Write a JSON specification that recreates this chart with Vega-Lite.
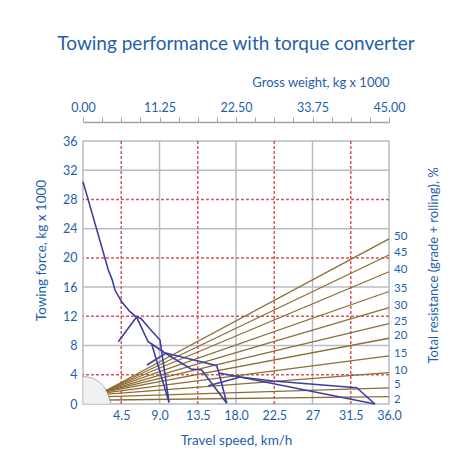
{
  "$schema": "https://vega.github.io/schema/vega-lite/v6.json",
  "width": 306,
  "height": 263,
  "autosize": {"type": "none"},
  "padding": {"left": 83, "top": 141, "right": 62, "bottom": 55},
  "background": "white",
  "config": {
    "font": "Lato",
    "view": {"stroke": "#b7bbc2", "strokeWidth": 1.5},
    "axis": {"labelFont": "Lato", "titleFont": "Lato", "labelColor": "#1f5fa9", "titleColor": "#1f5fa9", "titleFontWeight": "normal", "labelFlush": false, "grid": false, "labelOverlap": false}
  },
  "title": {"text": "Towing performance with torque converter", "fontSize": 19, "fontWeight": "normal", "color": "#1f5fa9", "font": "Lato", "anchor": "middle", "frame": "group", "offset": 22},
  "datasets": {
    "vgrid": [
      {"v": 9, "t": "g"}, {"v": 18, "t": "g"}, {"v": 27, "t": "g"},
      {"v": 4.5, "t": "r"}, {"v": 13.5, "t": "r"}, {"v": 22.5, "t": "r"}, {"v": 31.5, "t": "r"}
    ],
    "hgrid": [
      {"f": 8, "t": "g"}, {"f": 16, "t": "g"}, {"f": 24, "t": "g"}, {"f": 32, "t": "g"},
      {"f": 4, "t": "r"}, {"f": 12, "t": "r"}, {"f": 20, "t": "r"}, {"f": 28, "t": "r"}
    ],
    "arc": [
      {"v": 0, "f": 3.75}, {"v": 0.9, "f": 3.6}, {"v": 1.6, "f": 3.25}, {"v": 2.2, "f": 2.7},
      {"v": 2.7, "f": 1.95}, {"v": 3.05, "f": 1.1}, {"v": 3.3, "f": 0}
    ],
    "fan": [
      {"r": "50", "v": 2.72, "f": 1.85}, {"r": "50", "v": 36, "f": 22.6},
      {"r": "45", "v": 2.72, "f": 1.85}, {"r": "45", "v": 36, "f": 20.4},
      {"r": "40", "v": 2.72, "f": 1.85}, {"r": "40", "v": 36, "f": 18.1},
      {"r": "35", "v": 2.72, "f": 1.85}, {"r": "35", "v": 36, "f": 15.4},
      {"r": "30", "v": 2.74, "f": 1.8}, {"r": "30", "v": 36, "f": 13.2},
      {"r": "25", "v": 2.76, "f": 1.75}, {"r": "25", "v": 36, "f": 11.0},
      {"r": "20", "v": 2.78, "f": 1.7}, {"r": "20", "v": 36, "f": 9.0},
      {"r": "15", "v": 2.82, "f": 1.55}, {"r": "15", "v": 36, "f": 6.6},
      {"r": "10", "v": 2.88, "f": 1.35}, {"r": "10", "v": 36, "f": 4.3},
      {"r": "5", "v": 2.98, "f": 1.0}, {"r": "5", "v": 36, "f": 2.2},
      {"r": "2", "v": 3.12, "f": 0.55}, {"r": "2", "v": 36, "f": 1.0}
    ],
    "curves": [
      {"g": "A", "o": 1, "v": 0, "f": 30.44},
      {"g": "A", "o": 2, "v": 2.98, "f": 18.33},
      {"g": "A", "o": 3, "v": 3.45, "f": 16.96},
      {"g": "A", "o": 4, "v": 3.76, "f": 15.6},
      {"g": "A", "o": 5, "v": 4.55, "f": 13.99},
      {"g": "A", "o": 6, "v": 5.53, "f": 12.63},
      {"g": "A", "o": 7, "v": 6.32, "f": 11.86},
      {"g": "A", "o": 8, "v": 7.66, "f": 8.52},
      {"g": "A", "o": 9, "v": 8.08, "f": 8.21},
      {"g": "A", "o": 10, "v": 9.65, "f": 6.98},
      {"g": "A", "o": 11, "v": 12.7, "f": 4.79},
      {"g": "A", "o": 12, "v": 13.96, "f": 4.65},
      {"g": "A", "o": 13, "v": 16.91, "f": 0.1},
      {"g": "A2", "o": 1, "v": 8.08, "f": 8.21},
      {"g": "A2", "o": 2, "v": 10.12, "f": 0.23},
      {"g": "B", "o": 1, "v": 4.15, "f": 8.52},
      {"g": "B", "o": 2, "v": 6.32, "f": 11.94},
      {"g": "B", "o": 3, "v": 6.82, "f": 11.72},
      {"g": "B", "o": 4, "v": 7.88, "f": 10.26},
      {"g": "B", "o": 5, "v": 9.06, "f": 8.76},
      {"g": "B", "o": 6, "v": 10.12, "f": 0.23},
      {"g": "C", "o": 1, "v": 7.53, "f": 5.34},
      {"g": "C", "o": 2, "v": 9.76, "f": 6.98},
      {"g": "C", "o": 3, "v": 15.73, "f": 5.24},
      {"g": "C", "o": 4, "v": 16.0, "f": 4.24},
      {"g": "C", "o": 5, "v": 16.91, "f": 0.1},
      {"g": "D", "o": 1, "v": 16.0, "f": 4.24},
      {"g": "D", "o": 2, "v": 18.47, "f": 3.69},
      {"g": "D", "o": 3, "v": 22.35, "f": 3.15},
      {"g": "D", "o": 4, "v": 32.2, "f": 2.23},
      {"g": "D", "o": 5, "v": 34.35, "f": 0.0},
      {"g": "E", "o": 1, "v": 14.74, "f": 2.5},
      {"g": "E", "o": 2, "v": 16.5, "f": 3.05},
      {"g": "E", "o": 3, "v": 18.47, "f": 3.69},
      {"g": "E", "o": 4, "v": 34.35, "f": 0.0}
    ],
    "aux": [{"gw": 0, "r": 0}, {"gw": 45, "r": 36}]
  },
  "layer": [
    {
      "layer": [
        {
          "data": {"name": "vgrid"},
          "transform": [{"filter": "datum.t == 'g'"}],
          "mark": {"type": "rule", "color": "#b7bbc2", "strokeWidth": 1.5},
          "encoding": {
            "x": {
              "field": "v", "type": "quantitative",
              "scale": {"domain": [0, 36], "nice": false},
              "axis": {
                "values": [4.5, 9, 13.5, 18, 22.5, 27, 31.5, 36],
                "tickCount": 40,
                "labelExpr": "datum.value == 27 ? '27' : format(datum.value, '.1f')",
                "labelOverlap": false,
                "ticks": false, "domain": false, "labelPadding": 5, "labelFontSize": 12.5,
                "title": "Travel speed, km/h", "titleFontSize": 13.5, "titlePadding": 12
              }
            }
          }
        },
        {
          "data": {"name": "hgrid"},
          "transform": [{"filter": "datum.t == 'g'"}],
          "mark": {"type": "rule", "color": "#b7bbc2", "strokeWidth": 1.5},
          "encoding": {
            "y": {
              "field": "f", "type": "quantitative",
              "scale": {"domain": [0, 36], "nice": false},
              "axis": {
                "values": [0, 4, 8, 12, 16, 20, 24, 28, 32, 36],
                "tickCount": 40,
                "labelOverlap": false,
                "ticks": false, "domain": false, "labelPadding": 6, "labelFontSize": 12.5,
                "title": "Towing force, kg x 1000", "titleFontSize": 13.5, "titlePadding": 14, "titleY": 109
              }
            }
          }
        },
        {
          "data": {"name": "vgrid"},
          "transform": [{"filter": "datum.t == 'r'"}],
          "mark": {"type": "rule", "color": "#d8575a", "strokeWidth": 1.5, "strokeDash": [3, 2]},
          "encoding": {"x": {"field": "v", "type": "quantitative", "scale": {"domain": [0, 36], "nice": false}}}
        },
        {
          "data": {"name": "hgrid"},
          "transform": [{"filter": "datum.t == 'r'"}],
          "mark": {"type": "rule", "color": "#d8575a", "strokeWidth": 1.5, "strokeDash": [3, 2]},
          "encoding": {"y": {"field": "f", "type": "quantitative", "scale": {"domain": [0, 36], "nice": false}}}
        },
        {
          "data": {"name": "arc"},
          "mark": {"type": "area", "color": "#e9ebed", "interpolate": "monotone", "line": {"color": "#a9adb3", "strokeWidth": 1}},
          "encoding": {
            "x": {"field": "v", "type": "quantitative", "scale": {"domain": [0, 36], "nice": false}},
            "y": {"field": "f", "type": "quantitative", "scale": {"domain": [0, 36], "nice": false}}
          }
        },
        {
          "data": {"name": "fan"},
          "mark": {"type": "line", "color": "#8c6e34", "strokeWidth": 1.3},
          "encoding": {
            "x": {"field": "v", "type": "quantitative", "scale": {"domain": [0, 36], "nice": false}},
            "y": {"field": "f", "type": "quantitative", "scale": {"domain": [0, 36], "nice": false}},
            "detail": {"field": "r"}
          }
        },
        {
          "data": {"name": "curves"},
          "mark": {"type": "line", "color": "#3d3f9f", "strokeWidth": 1.6},
          "encoding": {
            "x": {"field": "v", "type": "quantitative", "scale": {"domain": [0, 36], "nice": false}},
            "y": {"field": "f", "type": "quantitative", "scale": {"domain": [0, 36], "nice": false}},
            "detail": {"field": "g"},
            "order": {"field": "o", "type": "quantitative"}
          }
        },
        {
          "data": {"name": "fan"},
          "transform": [{"filter": "datum.v == 36 && datum.r != '2' && datum.r != '5'"}],
          "mark": {"type": "text", "color": "#1f5fa9", "fontSize": 11.5, "font": "Lato", "align": "left", "baseline": "middle", "dx": 5, "dy": -2},
          "encoding": {
            "x": {"field": "v", "type": "quantitative", "scale": {"domain": [0, 36], "nice": false}},
            "y": {"field": "f", "type": "quantitative", "scale": {"domain": [0, 36], "nice": false}},
            "text": {"field": "r"}
          }
        },
        {
          "data": {"name": "fan"},
          "transform": [{"filter": "datum.v == 36 && datum.r == '5'"}],
          "mark": {"type": "text", "color": "#1f5fa9", "fontSize": 11.5, "font": "Lato", "align": "left", "baseline": "middle", "dx": 5, "dy": -3},
          "encoding": {
            "x": {"field": "v", "type": "quantitative", "scale": {"domain": [0, 36], "nice": false}},
            "y": {"field": "f", "type": "quantitative", "scale": {"domain": [0, 36], "nice": false}},
            "text": {"field": "r"}
          }
        },
        {
          "data": {"name": "fan"},
          "transform": [{"filter": "datum.v == 36 && datum.r == '2'"}],
          "mark": {"type": "text", "color": "#1f5fa9", "fontSize": 11.5, "font": "Lato", "align": "left", "baseline": "middle", "dx": 5, "dy": 3.5},
          "encoding": {
            "x": {"field": "v", "type": "quantitative", "scale": {"domain": [0, 36], "nice": false}},
            "y": {"field": "f", "type": "quantitative", "scale": {"domain": [0, 36], "nice": false}},
            "text": {"field": "r"}
          }
        }
      ]
    },
    {
      "data": {"name": "aux"},
      "mark": {"type": "point", "opacity": 0},
      "encoding": {
        "x": {
          "field": "gw", "type": "quantitative",
          "scale": {"domain": [0, 45], "nice": false},
          "axis": {
            "orient": "top", "offset": 19,
            "values": [0, 2.8125, 5.625, 8.4375, 11.25, 14.0625, 16.875, 19.6875, 22.5, 25.3125, 28.125, 30.9375, 33.75, 36.5625, 39.375, 42.1875, 45],
            "tickCount": 40,
            "labelExpr": "indexof([0, 11.25, 22.5, 33.75, 45], datum.value) >= 0 ? format(datum.value, '.2f') : ''",
            "labelOverlap": false,
            "tickSize": 5, "tickColor": "#9ea2a9", "tickWidth": 1, "domainColor": "#9ea2a9", "domainWidth": 1.5,
            "labelFontSize": 12.5, "labelPadding": 3,
            "title": "Gross weight, kg x 1000", "titleAnchor": "end", "titleFontSize": 13, "titlePadding": 12
          }
        },
        "y": {
          "field": "r", "type": "quantitative",
          "scale": {"domain": [0, 36], "nice": false},
          "axis": {
            "orient": "right", "labels": false, "ticks": false, "domain": false,
            "title": "Total resistance (grade + rolling), %", "titleAngle": 270, "titleBaseline": "top",
            "titleFontSize": 13, "titlePadding": 38, "titleY": 124
          }
        }
      }
    }
  ],
  "resolve": {"scale": {"x": "independent", "y": "independent"}}
}
